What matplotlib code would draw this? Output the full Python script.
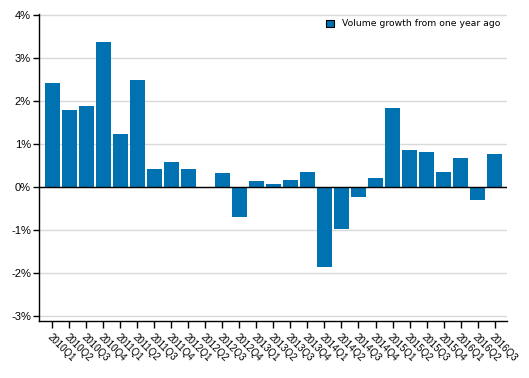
import matplotlib
matplotlib.use("Agg")
import matplotlib.pyplot as plt
from matplotlib.patches import Patch

quarters = ["2010Q1", "2010Q2", "2010Q3", "2010Q4",
            "2011Q1", "2011Q2", "2011Q3", "2011Q4",
            "2012Q1", "2012Q2", "2012Q3", "2012Q4",
            "2013Q1", "2013Q2", "2013Q3", "2013Q4",
            "2014Q1", "2014Q2", "2014Q3", "2014Q4",
            "2015Q1", "2015Q2", "2015Q3", "2015Q4",
            "2016Q1", "2016Q2", "2016Q3"]
growth = [2.42, 1.79, 1.89, 3.38,
          1.24, 2.49, 0.42, 0.58,
          0.42, 0.0, 0.33, -0.69,
          0.14, 0.07, 0.16, 0.35,
          -1.86, -0.99, -0.23, 0.21,
          1.84, 0.86, 0.82, 0.35,
          0.68, -0.30, 0.77]
y_ticks = [-3, -2, -1, 0, 1, 2, 3, 4]
series_name = "Volume growth from one year ago"

plt.rcParams['font.family'] = ['Liberation Sans', 'DejaVu Sans']
color = '#0072b2'

fig = plt.figure(figsize=(5.29, 3.78), dpi=100)
ax = fig.add_axes([0.0743, 0.1508, 0.8837, 0.8122])

x = list(range(len(quarters)))
ax.bar(x, growth, width=0.88, color=color, zorder=3)

ax.set_xlim(-0.77, len(quarters) - 1 + 0.72)
ax.set_ylim(-3.12, 4.02)
ax.set_yticks(y_ticks)
ax.set_yticklabels([f"{v}%" for v in y_ticks])
ax.grid(axis='y', color='#d9d9d9', linewidth=1.0, zorder=0)
ax.axhline(0, color='black', linewidth=1.0, zorder=4)

ax.set_xticks(x)
ax.set_xticklabels(quarters, rotation=-45, ha='left', va='top',
                   rotation_mode='anchor', fontsize=7)
ax.tick_params(axis='x', length=5, width=1, pad=3, colors='black')
ax.tick_params(axis='y', length=4, width=1, pad=2, labelsize=8)

for s in ['top', 'right']:
    ax.spines[s].set_visible(False)
for s in ['left', 'bottom']:
    ax.spines[s].set_linewidth(1.0)

handle = Patch(facecolor=color, edgecolor='black', linewidth=0.8, label=series_name)
leg = fig.legend(handles=[handle], loc='center right', frameon=False,
                 handlelength=0.8, handleheight=0.8,
                 handletextpad=0.85, borderpad=0, borderaxespad=0,
                 bbox_to_anchor=(500 / 529, 1 - 24 / 378),
                 bbox_transform=fig.transFigure,
                 prop={'family': 'DejaVu Sans', 'size': 6.7})

fig.savefig("out.png", dpi=100)
